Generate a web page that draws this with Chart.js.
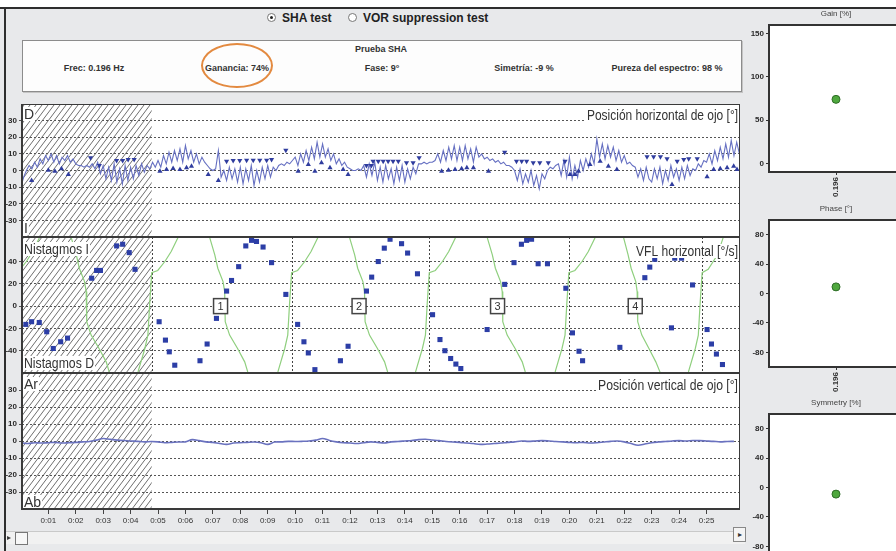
<!DOCTYPE html>
<html>
<head>
<meta charset="utf-8">
<script src="https://cdn.jsdelivr.net/npm/chart.js@4.4.0/dist/chart.umd.min.js"></script>
<style>
  body { margin:0; width:896px; height:551px; overflow:hidden; background:#e8e9eb; position:relative;
         font-family:"Liberation Sans", Arial, sans-serif; color:#333; }
  .abs { position:absolute; }
  .c { position:absolute; transform:translate(-50%,-50%); white-space:nowrap; }
  #topWhite { left:0; top:0; width:896px; height:7px; background:#fff; border-bottom:2px solid #2e2e2e; }
  #leftLine { left:4px; top:9px; width:2px; height:542px; background:#2e2e2e; }
  .radio { width:7px; height:7px; border:1px solid #777; border-radius:50%; background:#fff; }
  .radio.on::after { content:""; position:absolute; left:2px; top:2px; width:3px; height:3px; border-radius:50%; background:#222; }
  .rlab { font-weight:bold; font-size:12px; color:#222; }
  #stats { left:22px; top:40px; width:718px; height:50px; background:#fdfdfd; border:1px solid #8c8c8c; box-shadow:1px 1px 0 #c4c4c4; }
  .st { font-weight:bold; font-size:9px; color:#333; }
  #ring { left:201px; top:43px; width:68px; height:41px; border:2px solid #e38a40; border-radius:50%; }
  canvas { position:absolute; }
  #rightClip { left:745px; top:0; width:151px; height:551px; overflow:hidden; }
  #track { left:6px; top:531px; width:739px; height:12px; background:#f1f1f1; border-top:1px solid #c9c9c9; }
  #thumb { left:15px; top:532px; width:11px; height:11px; border:1px solid #777; background:#f7f7f7; }
  #arrowL { left:7px; top:533px; font-size:8px; color:#333; }
  #arrowR { left:733px; top:527px; width:11px; height:13px; border:1px solid #888; background:#f4f4f4; font-size:8px; text-align:center; line-height:13px; }
</style>
</head>
<body>
<div id="topWhite" class="abs"></div>
<div id="leftLine" class="abs"></div>

<div class="abs radio on" style="left:267px;top:13px;"></div>
<div class="abs rlab" style="left:282px;top:11px;">SHA test</div>
<div class="abs radio" style="left:348px;top:13px;"></div>
<div class="abs rlab" style="left:363px;top:11px;">VOR suppression test</div>

<div id="stats" class="abs"></div>
<div class="c st" style="left:381px;top:49px;">Prueba SHA</div>
<div class="c st" style="left:94px;top:68px;">Frec: 0.196 Hz</div>
<div class="c st" style="left:237px;top:68px;">Ganancia: 74%</div>
<div class="c st" style="left:382px;top:68px;">Fase: 9°</div>
<div class="c st" style="left:524px;top:68px;">Simetría: -9 %</div>
<div class="c st" style="left:667px;top:68px;">Pureza del espectro: 98 %</div>
<div id="ring" class="abs"></div>

<canvas id="posH" width="740" height="133" style="left:0;top:104px;"></canvas>
<canvas id="vfl" width="740" height="136" style="left:0;top:237px;"></canvas>
<canvas id="posV" width="740" height="160" style="left:0;top:373px;"></canvas>

<div id="rightClip" class="abs">
  <canvas id="gain" width="160" height="200" style="left:0;top:0;"></canvas>
  <canvas id="phase" width="160" height="200" style="left:0;top:195px;"></canvas>
  <canvas id="sym" width="160" height="200" style="left:0;top:389px;"></canvas>
</div>

<div id="track" class="abs"></div>
<div id="arrowL" class="abs">&#9656;</div>
<div id="thumb" class="abs"></div>
<div id="arrowR" class="abs">&#9656;</div>

<script>
// ---------- data ----------
const timeMin = 0.04;
const timeMax = 26.22;
const timeTicks = [1, 2, 3, 4, 5, 6, 7, 8, 9, 10, 11, 12, 13, 14, 15, 16, 17, 18, 19, 20, 21, 22, 23, 24, 25];
const posTicks = [-30, -20, -10, 0, 10, 20, 30];
const vflTicks = [-40, -20, 0, 20, 40];
const gainTicks = [0, 50, 100, 150];
const angleTicks = [-80, -40, 0, 40, 80];
const hatchEnd = 4.77;                       // start of analysed window (s)
const cycleStarts = [4.77, 9.87, 14.89, 19.98, 24.84];
const cycleNames = ['1', '2', '3', '4'];
const cycleMid = [7.28, 12.33, 17.38, 22.4];

// horizontal eye position [deg], one sample every 0.1 s from 0 s
const posHStep = 0.1;
const posH = [
  -10, -4, 0, 3, 1, 5, 2, 7, 4, 9,
  6, 10, 5, 9, 4, 8, 6, 9, 5, 7,
  4, 3, 3, 2, 3, 2, 4, 1, 5, -2,
  3, -5, 2, -6, 4, -7, 1, -8, 3, -6,
  2, -5, 3, -3, 4, -1, 3, 1, 5, 2,
  6, 2, 9, 4, 11, 5, 12, 6, 13, 5,
  15, 7, 12, 5, 10, 4, 8, 5, 3, 1,
  0, 1, 12, -4, 0, -6, 2, -5, 1, -7,
  2, -8, 1, -6, 3, -9, 0, -7, 2, -5,
  3, -4, 2, 0, 3, 4, 3, 5, 4, 6,
  8, 3, 10, 5, 12, 6, 14, 7, 17, 8,
  16, 8, 13, 6, 10, 4, 7, 3, 5, 2,
  1, 0, 0, 1, 0, 3, -4, 4, -3, 5,
  -6, 2, -7, 3, -5, 1, -8, 2, -6, 3,
  -7, 1, -5, 2, -2, 4, 4, 5, 4, 5,
  5, 6, 10, 5, 12, 6, 14, 7, 15, 6,
  14, 6, 15, 7, 13, 5, 14, 8, 10, 7,
  8, 6, 7, 5, 6, 4, 5, 3, 3, 2,
  0, -6, 1, -8, -2, -7, 0, -9, -3, -11,
  -2, -5, 0, 2, 1, 3, 4, -3, 6, -4,
  8, -5, 3, -4, 6, 0, 7, 2, 10, 4,
  19, 8, 16, 7, 15, 8, 14, 6, 12, 5,
  9, 4, 5, 3, 2, -4, 1, -6, 2, -5,
  -7, 1, -5, 2, -8, 0, -6, 3, -4, 1,
  -6, 2, -5, 3, -3, 1, 0, 4, 2, 6,
  5, 10, 4, 12, 6, 14, 7, 16, 8, 18,
  9, 17, 10
];

// beat markers [t, deg]
const beatsDown = [
  [2.54, 7.6], [2.86, 3], [3.49, 6], [3.71, 6], [3.91, 6.6], [4.13, 6.6],
  [7.5, 5.6], [7.74, 6], [7.98, 6], [8.23, 6.2], [8.47, 6.2], [8.71, 6.2], [8.96, 6.2], [9.14, 6.6],
  [9.66, 12.2], [12.6, 3], [12.78, 3], [12.84, 5.6], [13.03, 5.6], [13.21, 5.6], [13.39, 5.6],
  [13.57, 5.6], [13.76, 5.6], [14.06, 4.6], [14.3, 4.6], [14.52, 7.6], [17.64, 11],
  [18.07, 5.6], [18.26, 5.6], [18.44, 5.6], [18.68, 4.6], [18.92, 4.6], [19.23, 4.6], [19.84, 5.6],
  [22.83, 8.2], [23.07, 8.2], [23.32, 8.2], [23.56, 7], [23.93, 5.6], [24.17, 6.6], [24.35, 7], [24.66, 7]
];
const beatsUp = [
  [0.39, -6], [1.0, 0.2], [1.24, -0.4], [1.48, 1], [1.73, -2.4],
  [5.07, -0.4], [5.31, 0.6], [5.55, 1.2], [5.8, 0.6], [6.04, 1.6], [6.22, 2.6], [6.83, -2.4], [7.2, -6],
  [10.11, -0.4], [10.48, 3.6], [10.72, -0.4], [10.96, 4.6], [11.27, 1.6], [11.75, 0.6], [11.93, -2.4],
  [15.34, -0.4], [15.59, 0.2], [15.83, 0.6], [16.07, 1], [16.26, 1.6], [16.5, 1.6], [17.05, -0.4],
  [20.02, -2.4], [20.2, -2.4], [20.33, -0.4], [20.75, 3.6], [21.12, 5.6], [21.42, 2.6], [21.73, 0.6],
  [23.74, -8.4], [25.02, -3.8], [25.26, 0.6], [25.5, 1], [25.75, 1.6], [25.99, 2.6], [26.11, 0.6]
];

// slow phase velocity [t, deg/s]
const spv = [
  [0.18, -16.4], [0.39, -14], [0.67, -14.7], [0.94, -23], [1.18, -38], [1.45, -32], [1.7, -28.7],
  [2.58, 25], [2.76, 32], [2.9, 32], [3.49, 54], [3.71, 55.5], [3.95, 48], [4.16, 33],
  [5.04, -14], [5.27, -30.5], [5.41, -41], [5.61, -53], [6.53, -49], [6.79, -34], [7.13, -11],
  [7.5, 13.5], [7.68, 23], [7.94, 35.4], [8.2, 54], [8.41, 59], [8.59, 58], [8.83, 53], [9.14, 39],
  [9.66, 10.5], [10.09, -16.4], [10.32, -32], [10.48, -42], [10.72, -57], [11.65, -49], [11.93, -36],
  [12.6, 13.5], [12.79, 26], [13.03, 40], [13.25, 52], [13.46, 60], [13.88, 56], [14.1, 47.6],
  [14.46, 29], [15.01, -7.7], [15.28, -30], [15.46, -40], [15.67, -47], [15.86, -52], [16.04, -56],
  [17.0, -21], [17.64, 19.5], [17.98, 39], [18.25, 55.5], [18.44, 59], [18.62, 60], [18.86, 38],
  [19.2, 38], [19.87, 16], [20.11, -24], [20.35, -40.5], [20.48, -49], [21.84, -37], [22.75, 25.5],
  [22.93, 35], [23.11, 42], [23.72, -19.5], [23.84, 43], [24.09, 43], [24.49, 19], [25.02, -21],
  [25.18, -34], [25.36, -43], [25.58, -52.4]
];

// stimulus velocity trace [t, deg/s] (runs off the scale at its peaks)
const stimulus = [
  [-0.28, 30], [-0.06, 32], [0.2, 40], [0.43, 49], [0.67, 61], [1.27, 95], [1.84, 61], [2.02, 46],
  [2.13, 34], [2.32, 22], [2.38, 13], [2.4, -14], [2.56, -26], [2.85, -38], [3.11, -50], [3.22, -59],
  [3.77, -95], [4.27, -59], [4.52, -38], [4.63, -26], [4.7, 4],
  [4.77, 30], [4.99, 32], [5.25, 40], [5.48, 49], [5.72, 61], [6.32, 95], [6.89, 61], [7.07, 46],
  [7.18, 34], [7.37, 22], [7.43, 13], [7.45, -14], [7.61, -26], [7.9, -38], [8.16, -50], [8.27, -59],
  [8.82, -95], [9.37, -59], [9.62, -38], [9.73, -26], [9.8, 4],
  [9.87, 30], [10.09, 32], [10.35, 40], [10.58, 49], [10.82, 61], [11.42, 95], [11.99, 61], [12.17, 46],
  [12.28, 34], [12.47, 22], [12.53, 13], [12.55, -14], [12.71, -26], [13.0, -38], [13.26, -50], [13.37, -59],
  [13.92, -95], [14.39, -59], [14.64, -38], [14.75, -26], [14.82, 4],
  [14.89, 30], [15.11, 32], [15.37, 40], [15.6, 49], [15.84, 61], [16.44, 95], [17.01, 61], [17.19, 46],
  [17.3, 34], [17.49, 22], [17.55, 13], [17.57, -14], [17.73, -26], [18.02, -38], [18.28, -50], [18.39, -59],
  [18.94, -95], [19.48, -59], [19.73, -38], [19.84, -26], [19.91, 4],
  [19.98, 30], [20.2, 32], [20.46, 40], [20.69, 49], [20.93, 61], [21.45, 95], [21.98, 61], [22.14, 46],
  [22.25, 34], [22.42, 22], [22.47, 13], [22.49, -14], [22.64, -26], [22.9, -38], [23.15, -50], [23.3, -59],
  [23.8, -95], [24.34, -59], [24.59, -38], [24.7, -26], [24.77, 4],
  [24.84, 30], [25.06, 33], [25.4, 46], [25.6, 61], [26.2, 95], [26.6, 61]
];

// vertical eye position [deg], one sample every 0.25 s from 0 s
const posVStep = 0.25;
const posV = [
  -1, -1.5, -1, -1.2, -1, -0.8, -1.2, -1, -0.8, -0.5, -0.3, 0.5,
  1.5, 1, 0.5, 0.3, 0, -0.2, -0.5, -0.3, -0.5, -1, -0.8, -0.6,
  -0.5, 0.8, 0.2, -0.5, -0.8, -1.5, -2, -1.2, -1, -0.8, -0.6, -1,
  -2, -0.6, -0.5, -0.2, -0.3, -0.2, 0, 0.5, 1.5, 0.3, -0.5, -1,
  -1.2, -1.5, -1, -0.5, -0.8, -1.2, -0.5, -0.3, 0, 0.3, 0.8, 1,
  0.6, 0.2, -0.3, -0.6, -0.8, -1.2, -1.5, -2, -1.8, -1.5, -1.2, -0.8,
  -0.5, 0, -0.2, 0, 0.2, 0, -0.3, -0.5, -0.8, -1, -0.8, -1.2,
  -1, -0.6, -0.2, 0, -0.5, -1.5, -2.5, -1.8, -1, -0.6, -0.3, 0,
  0.2, 0, 0.3, 0.2, 0, -0.2, -0.5, -0.3, -0.2
];

// summary plots on the right
const freqLabels = ['0.196'];
const gainValues = [74];
const phaseValues = [9];
const symmetryValues = [-9];

// ---------- drawing ----------
const narrow = '"Liberation Sans Narrow", "Liberation Sans", Arial, sans-serif';
Chart.defaults.font.family = narrow;
Chart.defaults.color = '#2a2a2a';

const fixedTicks = values => s => { s.ticks = values.map(v => ({ value: v })); };

function textBox(ctx, text, x, y, align, width, size) {
  ctx.save();
  ctx.font = size + 'px "Liberation Sans", Arial, sans-serif';
  const w = ctx.measureText(text).width;
  const sx = width ? width / w : 1;
  const left = align === 'right' ? x - w * sx : x;
  ctx.fillStyle = '#fff';
  ctx.fillRect(left - 2, y - size / 2, w * sx + 3, size);
  ctx.translate(left, y);
  ctx.scale(sx, 1);
  ctx.fillStyle = '#333';
  ctx.textBaseline = 'middle';
  ctx.fillText(text, 0, 1);
  ctx.restore();
}

function panelPlugin(labels, extra) {
  return {
    id: 'panel',
    beforeDraw(chart) {
      const { ctx, chartArea: a, scales: { x } } = chart;
      ctx.save();
      ctx.fillStyle = '#fff';
      ctx.fillRect(a.left, a.top, a.right - a.left, a.bottom - a.top);
      // hatched, not analysed part
      const x0 = a.left, x1 = x.getPixelForValue(hatchEnd), h = a.bottom - a.top;
      ctx.beginPath();
      ctx.rect(x0, a.top, x1 - x0, h);
      ctx.clip();
      ctx.strokeStyle = '#6e6e6e';
      ctx.lineWidth = 1;
      ctx.beginPath();
      for (let k = x0 - h; k < x1; k += 6) {
        ctx.moveTo(k, a.bottom);
        ctx.lineTo(k + h * 0.75, a.top);
      }
      ctx.stroke();
      ctx.restore();
    },
    beforeDatasetsDraw(chart) {
      if (extra && extra.before) extra.before(chart);
    },
    afterDraw(chart) {
      const { ctx, chartArea: a } = chart;
      if (extra && extra.after) extra.after(chart);
      labels.forEach(l => textBox(ctx, l.text, l.align === 'right' ? a.right - 2 : a.left + 2,
        a.top + l.y, l.align, l.w, 14));
      ctx.save();
      ctx.strokeStyle = '#3a3a3a';
      ctx.lineWidth = 2;
      ctx.strokeRect(a.left, a.top, a.right - a.left, a.bottom - a.top);
      ctx.restore();
    }
  };
}

function leftOptions(yMin, yMax, yTicks, showX) {
  return {
    responsive: false,
    animation: false,
    events: [],
    layout: { padding: 0, autoPadding: false },
    plugins: { legend: { display: false }, tooltip: { enabled: false } },
    scales: {
      x: {
        type: 'linear', min: timeMin, max: timeMax, display: showX,
        afterBuildTicks: fixedTicks(timeTicks),
        afterFit: s => { if (showX) s.height = 24; s.paddingLeft = 0; s.paddingRight = 0; },
        ticks: {
          maxRotation: 0, autoSkip: false, padding: 2,
          font: { size: 8 }, color: '#333',
          callback: v => '0:' + String(v).padStart(2, '0')
        },
        grid: { drawOnChartArea: false, tickLength: 5, color: '#444' },
        border: { display: false }
      },
      y: {
        min: yMin, max: yMax,
        afterBuildTicks: fixedTicks(yTicks),
        afterFit: s => { s.width = 22; s.paddingTop = 0; s.paddingBottom = 0; },
        ticks: { autoSkip: false, padding: 2, font: { size: 8, weight: 'bold' }, color: '#2a2a2a' },
        grid: { color: '#555', lineWidth: 1, tickLength: 3, tickColor: '#555' },
        border: { display: false, dash: [2, 2] }
      }
    }
  };
}

// horizontal position
new Chart(document.getElementById('posH'), {
  type: 'line',
  data: {
    datasets: [
      {
        data: posH.map((v, i) => ({ x: i * posHStep, y: v })),
        borderColor: '#6670c2', borderWidth: 1.1, pointRadius: 0, tension: 0, clip: 0, order: 2
      },
      {
        data: beatsDown.map(p => ({ x: p[0], y: p[1] })),
        showLine: false, pointStyle: 'triangle', rotation: 180, pointRadius: 3,
        backgroundColor: '#2f3c9e', borderColor: '#2f3c9e', borderWidth: 0, order: 1
      },
      {
        data: beatsUp.map(p => ({ x: p[0], y: p[1] })),
        showLine: false, pointStyle: 'triangle', pointRadius: 3,
        backgroundColor: '#2f3c9e', borderColor: '#2f3c9e', borderWidth: 0, order: 1
      }
    ]
  },
  options: leftOptions(-40, 40, posTicks, false),
  plugins: [panelPlugin([
    { text: 'D', y: 10 }, { text: 'I', y: 124 },
    { text: 'Posición horizontal de ojo [°]', y: 11, align: 'right', w: 151 }
  ])]
});

// slow phase velocity
new Chart(document.getElementById('vfl'), {
  type: 'line',
  data: {
    datasets: [
      {
        data: stimulus.map(p => ({ x: p[0], y: p[1] })),
        borderColor: '#8fcf7e', borderWidth: 1.2, pointRadius: 0, tension: 0, clip: 0, order: 2
      },
      {
        data: spv.map(p => ({ x: p[0], y: p[1] })),
        showLine: false, pointStyle: 'rect', pointRadius: 3.6,
        backgroundColor: '#2c3ea6', borderColor: '#2c3ea6', borderWidth: 0, order: 1
      }
    ]
  },
  options: leftOptions(-60, 62, vflTicks, false),
  plugins: [panelPlugin([
    { text: 'Nistagmos I', y: 12, w: 65 }, { text: 'Nistagmos D', y: 126, w: 70 },
    { text: 'VFL horizontal [°/s]', y: 14, align: 'right', w: 102 }
  ], {
    before(chart) {
      const { ctx, chartArea: a, scales: { x } } = chart;
      ctx.save();
      ctx.strokeStyle = '#444';
      ctx.setLineDash([2, 2]);
      ctx.beginPath();
      cycleStarts.forEach(t => {
        const px = Math.round(x.getPixelForValue(t)) + 0.5;
        ctx.moveTo(px, a.top);
        ctx.lineTo(px, a.bottom);
      });
      ctx.stroke();
      ctx.restore();
    },
    after(chart) {
      const { ctx, scales: { x, y } } = chart;
      ctx.save();
      cycleNames.forEach((n, i) => {
        const cx = x.getPixelForValue(cycleMid[i]), cy = y.getPixelForValue(0);
        ctx.fillStyle = '#fff';
        ctx.fillRect(cx - 7, cy - 7.5, 14, 15);
        ctx.strokeStyle = '#444';
        ctx.lineWidth = 1.5;
        ctx.strokeRect(cx - 7, cy - 7.5, 14, 15);
        ctx.fillStyle = '#333';
        ctx.font = '11px "Liberation Sans", Arial, sans-serif';
        ctx.textAlign = 'center';
        ctx.textBaseline = 'middle';
        ctx.fillText(n, cx, cy + 1);
      });
      ctx.restore();
    }
  })]
});

// vertical position
new Chart(document.getElementById('posV'), {
  type: 'line',
  data: {
    datasets: [{
      data: posV.map((v, i) => ({ x: i * posVStep, y: v })),
      borderColor: '#6a72bf', borderWidth: 1.6, pointRadius: 0, tension: 0.3, clip: 0
    }]
  },
  options: leftOptions(-40, 40, posTicks, true),
  plugins: [panelPlugin([
    { text: 'Ar', y: 11 }, { text: 'Ab', y: 129 },
    { text: 'Posición vertical de ojo [°]', y: 12, align: 'right', w: 140 }
  ])]
});

// summary plots
function summaryChart(id, title, values, yMin, yMax, yTicks) {
  new Chart(document.getElementById(id), {
    type: 'line',
    data: {
      labels: freqLabels,
      datasets: [{
        data: values, showLine: false, pointRadius: 4,
        backgroundColor: '#4fa83e', borderColor: '#2f6d27', borderWidth: 1
      }]
    },
    options: {
      responsive: false, animation: false, events: [],
      layout: { padding: { top: 25, right: 2, left: 0, bottom: 0 }, autoPadding: false },
      plugins: { legend: { display: false }, tooltip: { enabled: false } },
      scales: {
        x: {
          offset: true,
          afterFit: s => { s.height = 28; s.paddingLeft = 0; s.paddingRight = 0; },
          ticks: { minRotation: 90, maxRotation: 90, padding: 2, font: { size: 8, weight: 'bold' }, color: '#333' },
          grid: { drawOnChartArea: false, tickLength: 3, color: '#333' },
          border: { display: false }
        },
        y: {
          min: yMin, max: yMax,
          afterBuildTicks: fixedTicks(yTicks),
          afterFit: s => { s.width = 24; s.paddingTop = 0; s.paddingBottom = 0; },
          ticks: { autoSkip: false, padding: 2, font: { size: 8, weight: 'bold' }, color: '#2a2a2a' },
          grid: { drawOnChartArea: false, tickLength: 3, color: '#333' },
          border: { display: false }
        }
      }
    },
    plugins: [{
      id: 'frame',
      beforeDraw(chart) {
        const { ctx, chartArea: a } = chart;
        ctx.save();
        ctx.fillStyle = '#fff';
        ctx.fillRect(a.left, a.top, a.right - a.left, a.bottom - a.top);
        ctx.restore();
      },
      afterDraw(chart) {
        const { ctx, chartArea: a } = chart;
        ctx.save();
        ctx.strokeStyle = '#333';
        ctx.lineWidth = 2;
        ctx.strokeRect(a.left, a.top, a.right - a.left, a.bottom - a.top);
        ctx.font = '8px "Liberation Sans", Arial, sans-serif';
        ctx.fillStyle = '#444';
        ctx.textAlign = 'center';
        ctx.textBaseline = 'middle';
        ctx.fillText(title, (a.left + a.right) / 2, a.top - 11);
        ctx.restore();
      }
    }]
  });
}

summaryChart('gain', 'Gain [%]', gainValues, -10, 160, gainTicks);
summaryChart('phase', 'Phase [°]', phaseValues, -100, 100, angleTicks);
summaryChart('sym', 'Symmetry [%]', symmetryValues, -100, 100, angleTicks);
</script>
</body>
</html>
